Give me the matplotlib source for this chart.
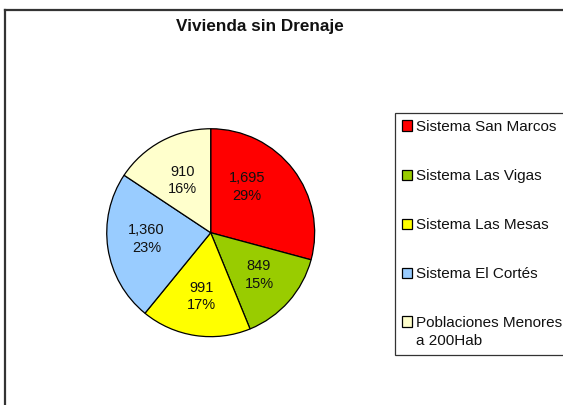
import matplotlib
matplotlib.use("Agg")
import numpy as np
import matplotlib.pyplot as plt
from matplotlib.lines import Line2D

plt.rcParams['font.family'] = ['Liberation Sans', 'DejaVu Sans']

title = "Vivienda sin Drenaje"
categories = ["Sistema San Marcos", "Sistema Las Vigas", "Sistema Las Mesas",
              "Sistema El Cortés", "Poblaciones Menores\na 200Hab"]
values = [1695, 849, 991, 1360, 910]
colors = ["#FF0000", "#99CC00", "#FFFF00", "#99CCFF", "#FFFFCC"]

W, H = 563, 405
fig = plt.figure(figsize=(W / 100, H / 100), dpi=100)

# outer chart border (left and top visible)
fig.add_artist(Line2D([4.5 / W, 4.5 / W], [0, 1 - 9.5 / H], transform=fig.transFigure,
                      color="#333333", lw=1.6))
fig.add_artist(Line2D([4.5 / W, 1], [1 - 9.5 / H, 1 - 9.5 / H], transform=fig.transFigure,
                      color="#333333", lw=1.6))

cx, cy, R = 210.7, 232.7, 105
ax = fig.add_axes([(cx - R) / W, (H - cy - R) / H, 2 * R / W, 2 * R / H])

total = sum(values)


def fmt(p):
    v = int(round(p * total / 100.0))
    return f"{v:,}\n{p:.0f}%"


wedges, texts, autotexts = ax.pie(values, colors=colors, startangle=90, counterclock=False,
                                  radius=1.0, autopct=fmt, pctdistance=0.6,
                                  wedgeprops=dict(edgecolor="black", linewidth=0.9),
                                  textprops=dict(fontsize=10.5, color="#111111",
                                                 linespacing=1.35))

# label placement similar to the spreadsheet layout
label_dist = [0.56, 0.62, 0.62, 0.62, 0.57]
label_rot = [14, 0, 0, -3, 0]  # degrees toward counter-clockwise
for w, t, d, rot in zip(wedges, autotexts, label_dist, label_rot):
    ang = np.deg2rad((w.theta1 + w.theta2) / 2 + rot)
    t.set_position((d * np.cos(ang), d * np.sin(ang)))

ax.set_xlim(-1.01, 1.01)
ax.set_ylim(-1.01, 1.01)
ax.set_aspect("equal")
ax.axis("off")

fig.text(260 / W, 1 - 27 / H, title, ha="center", va="center", fontsize=12.3,
         fontweight="bold", color="#111111")

leg = fig.legend(wedges, categories, loc="upper left",
                 bbox_to_anchor=(395 / W, 1 - 113 / H), bbox_transform=fig.transFigure,
                 fontsize=11, frameon=True, fancybox=False, edgecolor="black",
                 borderpad=0.45, labelspacing=2.3, handlelength=0.65, handleheight=0.65,
                 handletextpad=0.3, borderaxespad=0)
leg.get_frame().set_linewidth(0.9)
for t in leg.get_texts():
    t.set_color("#111111")
    t.set_linespacing(1.3)
# align the multi-line entry's marker with its first line
for col in leg._legend_handle_box.get_children():
    rows = col.get_children()
    if rows:
        rows[-1].align = "top"

fig.savefig("out.png", dpi=100)
